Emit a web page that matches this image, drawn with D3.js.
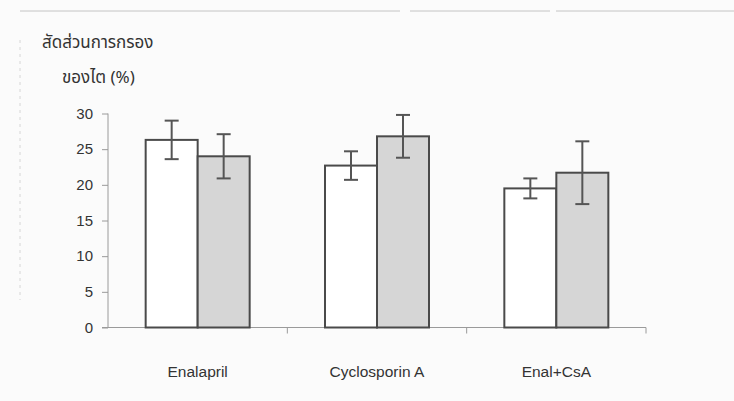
<!DOCTYPE html>
<html>
<head>
<meta charset="utf-8">
<script src="https://cdn.jsdelivr.net/npm/d3@7"></script>
<style>
  body { margin: 0; background: #fbfbfb; }
  svg { display: block; }
  text { font-family: "Liberation Sans", Arial, sans-serif; fill: #333; }
  .thai { font-family: "Noto Sans Thai", "Noto Sans", "DejaVu Sans", sans-serif; }
</style>
</head>
<body>
<div id="chart"></div>
<script>
// data
const categories = ["Enalapril", "Cyclosporin A", "Enal+CsA"];
const seriesNames = ["white", "grey"];
const means = [
    [26.3, 24.0],
    [22.7, 26.8],
    [19.5, 21.7]
];
const errors = [
    [2.7, 3.1],
    [2.0, 3.0],
    [1.4, 4.4]
];
const yTicks = [0, 5, 10, 15, 20, 25, 30];
const titleLines = ["สัดส่วนการกรอง", "ของไต (%)"];

const W = 734, H = 401;
const margin = {left: 108, right: 88, top: 113.5, bottom: 73.5};
const innerW = W - margin.left - margin.right;
const innerH = H - margin.top - margin.bottom;
const groupW = 104;

const svg = d3.select("#chart").append("svg")
    .attr("width", W)
    .attr("height", H);

// faint scan frame
svg.append("line")
    .attr("x1", 20).attr("x2", W).attr("y1", 11).attr("y2", 11)
    .attr("stroke", "#c4c4c4").attr("stroke-width", 1)
    .attr("stroke-dasharray", "380 10 140 6 200");
svg.append("line")
    .attr("x1", 20).attr("x2", 20).attr("y1", 40).attr("y2", 300)
    .attr("stroke", "#d6d6d6").attr("stroke-width", 1)
    .attr("stroke-dasharray", "3 4");

// title
svg.selectAll(".title")
    .data(titleLines)
    .enter().append("text")
    .attr("class", "thai")
    .attr("x", (d, i) => i === 0 ? 42 : 62)
    .attr("y", (d, i) => i === 0 ? 48 : 83)
    .style("font-size", "17px")
    .text(d => d);

const g = svg.append("g")
    .attr("transform", `translate(${margin.left}, ${margin.top})`);

const x0 = d3.scaleBand().domain(categories).range([0, innerW]);
const x1 = d3.scaleBand().domain(seriesNames).range([0, groupW]);
const y = d3.scaleLinear().domain([0, 30]).range([innerH, 0]);

// y axis
const yAxis = d3.axisLeft(y).tickValues(yTicks).tickSize(6).tickPadding(9);
g.append("g")
    .attr("class", "y axis")
    .call(yAxis)
    .call(s => s.selectAll("path, line").attr("stroke", "#9a9a9a"))
    .call(s => s.select(".domain").attr("d", `M0,${y(30)}V${y(0)}`))
    .call(s => s.selectAll("text").style("font-size", "15px").attr("fill", "#333"));

// x axis
g.append("line")
    .attr("x1", -6).attr("x2", innerW)
    .attr("y1", innerH).attr("y2", innerH)
    .attr("stroke", "#9a9a9a");
g.selectAll(".xtick")
    .data(categories)
    .enter().append("line")
    .attr("x1", d => x0(d) + x0.bandwidth())
    .attr("x2", d => x0(d) + x0.bandwidth())
    .attr("y1", innerH).attr("y2", innerH + 6)
    .attr("stroke", "#9a9a9a");
g.selectAll(".xlabel")
    .data(categories)
    .enter().append("text")
    .attr("x", d => x0(d) + x0.bandwidth() / 2)
    .attr("y", innerH + 49)
    .attr("text-anchor", "middle")
    .style("font-size", "15.5px")
    .text(d => d);

// bars
const rows = [];
categories.forEach((c, i) => {
    seriesNames.forEach((s, j) => {
        rows.push({cat: c, series: s, value: means[i][j], err: errors[i][j]});
    });
});
const barX = d => x0(d.cat) + (x0.bandwidth() - groupW) / 2 + x1(d.series);

g.selectAll(".bar")
    .data(rows)
    .enter().append("rect")
    .attr("class", "bar")
    .attr("x", barX)
    .attr("y", d => y(d.value))
    .attr("width", x1.bandwidth())
    .attr("height", d => y(0) - y(d.value))
    .attr("fill", d => d.series === "white" ? "#ffffff" : "#d6d6d6")
    .attr("stroke", "#4a4a4a")
    .attr("stroke-width", 2);

// error bars
const capW = 14;
const eb = g.selectAll(".err")
    .data(rows)
    .enter().append("g")
    .attr("class", "err")
    .attr("stroke", "#555")
    .attr("stroke-width", 2);
eb.append("line")
    .attr("x1", d => barX(d) + x1.bandwidth() / 2)
    .attr("x2", d => barX(d) + x1.bandwidth() / 2)
    .attr("y1", d => y(d.value + d.err))
    .attr("y2", d => y(d.value - d.err));
eb.append("line")
    .attr("x1", d => barX(d) + x1.bandwidth() / 2 - capW / 2)
    .attr("x2", d => barX(d) + x1.bandwidth() / 2 + capW / 2)
    .attr("y1", d => y(d.value + d.err))
    .attr("y2", d => y(d.value + d.err));
eb.append("line")
    .attr("x1", d => barX(d) + x1.bandwidth() / 2 - capW / 2)
    .attr("x2", d => barX(d) + x1.bandwidth() / 2 + capW / 2)
    .attr("y1", d => y(d.value - d.err))
    .attr("y2", d => y(d.value - d.err));
</script>
</body>
</html>
